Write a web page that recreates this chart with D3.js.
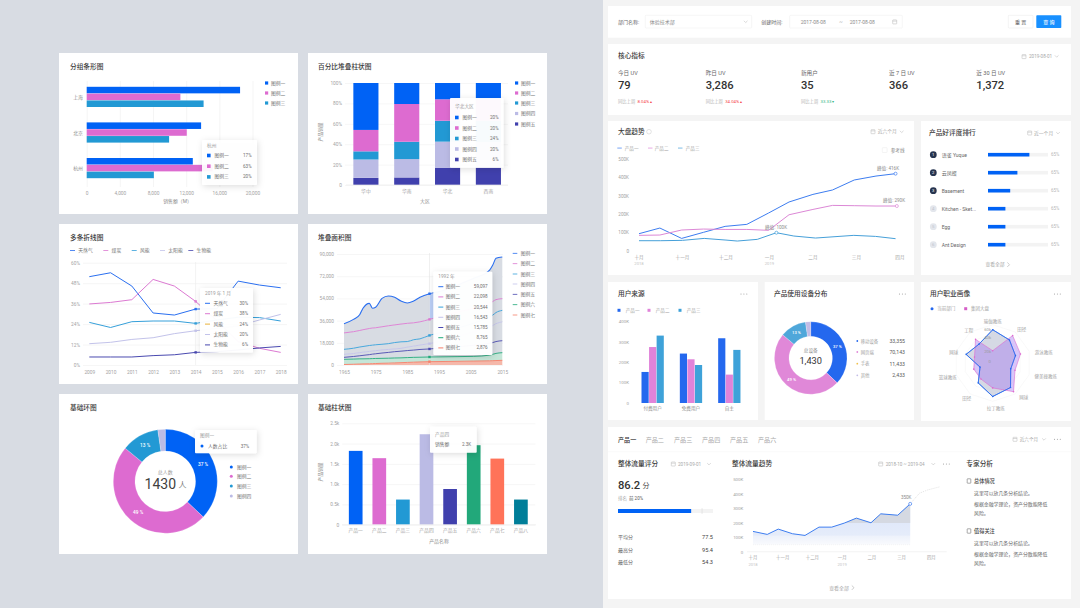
<!DOCTYPE html>
<html>
<head>
<meta charset="utf-8">
<script src="https://cdnjs.cloudflare.com/ajax/libs/d3/7.8.5/d3.min.js"></script>
<style>
html,body{margin:0;padding:0;background:#d8dce3;}
svg{display:block;}
text{font-family:Roboto,"Noto Sans CJK SC",sans-serif;}
.tick text{fill:#a3a3a3;}
</style>
</head>
<body>
<div id="chart"></div>
<script>
// ---- palette
var BLUE='#0062f5',PINK='#dd6bd0',TEAL='#2299d4',LAV='#bbbbe5',INDIGO='#4040ad',GREEN='#22a87a',CORAL='#ff7359',DTEAL='#007e99';
var SOFT_BLUE='#2468ee',SOFT_PINK='#e083d9',SOFT_TEAL='#3ea2d9';
var legendNames=['图例一','图例二','图例三','图例四','图例五','图例六','图例七'];

// ---- grouped horizontal bars
var hbarCities=['上海','北京','杭州'];
var hbarA=[18500,13800,12800];
var hbarB=[11300,12070,15200];
var hbarC=[14100,9940,8100];
var hbarTicks=[0,4000,8000,12000,16000,20000];

// ---- 100% stacked columns
var pctRegions=['华中','华南','华北','西南'];
var pctS1=[46,20.6,16,16];
var pctS2=[21,37,21,21];
var pctS3=[8,17,20.5,21];
var pctS4=[18,18,25.5,25];
var pctS5=[7,7.4,17,17];
var pctTicks=[0,20,40,60,80,100];

// ---- multi lines
var lineYears=[2009,2010,2011,2012,2013,2014,2015,2016,2017,2018];
var lineGas=[51.8,54.1,46.3,30.5,29.3,32.8,33,49.2,46.9,45.3];
var lineCoal=[35.8,36.7,38.3,50.2,46.3,37.3,26,13.7,9.8,7.4];
var lineWind=[25,22,25.4,25.8,25.8,24.4,26.4,28,27.8,25.8];
var lineSolar=[12.5,13.3,15,16,18.4,20.1,21.5,22.9,26.4,29.7];
var lineBio=[4.7,4.7,4.7,5.5,6,7.4,7.8,8.8,10,10.9];
var lineNames=['天然气','煤炭','风能','太阳能','生物能'];
var lineTicks=[0,12,24,36,48,60];

// ---- stacked area: level of each boundary, in thousands
var areaYears=[1965,1968,1970,1971,1973,1974,1975,1977,1979,1981,1983,1985,1987,1989,1992,1995,2001,2006,2011,2012,2013,2015];
var areaL1=[33.5,37,41,46,50,46,46.8,54,56,54.9,51.9,50.3,51.9,54.9,57.8,59.5,64.9,70.3,77,81,86.5,87.6];
var areaL2=[26,27,28,28.6,29.6,30,30.2,31,31.8,32.5,33.2,33.8,34.2,35,37,39,43,46,50,51.5,53,53.8];
var areaL3=[12.7,13.6,14.6,15,15.8,16.1,16.4,16.8,17.3,18.2,18.8,19,20.5,21.2,24,26,30,34,39,40.5,42.5,44.3];
var areaL4=[8.6,9.3,10,10.4,11,11.3,11.6,12.2,12.6,13,13.5,14.5,15.3,16.2,17.3,19,23,27,31,32,33.5,35];
var areaL5=[6.2,6.9,7.5,7.8,8.4,8.8,9.1,9.7,10.2,10.8,11.2,11.7,12.1,12.6,13,13.6,14.8,16,17.6,18.2,19,19.7];
var areaL6=[4.6,4.8,5,5,5.1,5.2,5.3,5.4,5.5,5.7,5.8,6,6.2,6.3,6.5,6.6,6.8,7,8,8.7,9.4,10];
var areaL7=[0.4,0.6,0.8,0.9,1,1.1,1.2,1.4,1.5,1.7,1.9,2.1,2.3,2.5,2.7,2.8,3,3.2,3.4,3.5,3.6,3.8];
var areaTicks=[0,18,36,54,72,90];
var areaTipValues=['59,097','22,098','20,544','16,543','15,785','8,765','2,876'];

// ---- donuts
var ringValues=[37,49,11.7,2.3];
var ringLabels=['37 %','49 %','13 %',''];

// ---- column chart
var colNames=['产品一','产品二','产品三','产品四','产品五','产品六','产品七','产品八'];
var colValues=[1.82,1.64,0.62,2.23,0.88,1.96,1.63,0.62];
var colTicks=[0,0.5,1,1.5,2,2.5];

// ---- dashboard: KPI row
var kpiLabels=['今日 UV','昨日 UV','新用户','近 7 日 UV','近 30 日 UV'];
var kpiValues=['79','3,286','35','366','1,372'];
var kpiDelta=['8.04%','34.04%','33.33','',''];

// ---- dashboard: trend
var monthNames=['十月','十一月','十二月','一月','二月','三月','四月'];
var trendPos=[0,.48,.98,1.48,1.98,2.48,2.98,3.45,4,4.45,4.95,5.45,5.9];
var trendP1=[92.7,123.6,67,100,132.7,143.6,205.5,265.5,307,331,385.5,407,420];
var trendP2=[83.6,85.5,112.7,118,116,116,111,196,225,247,245.5,243.6,243.6];
var trendP3Pos=[0,.5,1,1.5,2,2.26,2.72,3.16,3.56,4.06,4.94,5.44,5.9];
var trendP3=[54.5,54.5,56.4,67,58,52.7,61.8,98,80,69,83.6,78,65.5];
var kTicks=[0,100,200,300,400,500];

// ---- dashboard: ranking
var rankNames=['语雀 Yuque','云凤蝶','Basement','Kitchen - Sket...','Egg','Ant Design'];
var rankShare=[69,49,37,29,29,29];

// ---- dashboard: source columns
var srcGroups=['付费用户','免费用户','自主'];
var srcP1=[152,242,317];
var srcP2=[274,214,139];
var srcP3=[330,186,260];

// ---- dashboard: device legend
var deviceNames=['移动设备','网页端','手表','其他'];
var deviceValues=['33,355','70,143','11,433','2,433'];

// ---- dashboard: radar
var radarAxes=['瑜伽教练','田径','游泳教练','健美操教练','网球','拉丁教练','田径','篮球教练','网球','工程'];
var radarDept=[69.5,59.5,50,39.6,63.3,70,51.5,27.8,58.4,48.7];
var radarGroup=[25.7,70.8,61,49,74,52,41.6,41.6,40,61];
var radarTicks=[20,40,60];

// ---- dashboard: flow trend
var flowPos=[0,.48,.85,1.33,1.75,2.22,2.65,3.07,3.48,3.97,4.3,4.87,5.29];
var flowValues=[141.6,121,157.5,125.6,114,171,171,198.6,233,201,262.6,253,331];
var flowFcPos=[5.29,5.6,5.88,6.27];
var flowFcValues=[331,404,427,447.5];
var flowStatNames=['平均分','最高分','最低分'];
var flowStatValues=['77.5','95.4','54.3'];
var tabNames=['产品一','产品二','产品三','产品四','产品五','产品六'];

var svg=d3.select('#chart').append('svg').attr('width',1080).attr('height',608).attr('viewBox','0 0 1080 608');
var defs=svg.append('defs');
var shadow=defs.append('filter').attr('id','tipShadow').attr('x','-30%').attr('y','-30%').attr('width','160%').attr('height','160%');
shadow.append('feDropShadow').attr('dx',1).attr('dy',1.5).attr('stdDeviation',3).attr('flood-color','#000').attr('flood-opacity',.14);

svg.append('rect').attr('width',1080).attr('height',608).attr('fill','#d8dce3');
svg.append('rect').attr('x',603).attr('width',477).attr('height',608).attr('fill','#f4f4f4');

function card(x0,y0,x1,y1){
  svg.append('rect').attr('x',x0).attr('y',y0).attr('width',x1-x0).attr('height',y1-y0).attr('fill','#fff');
}
function txt(x,y,s,o){
  o=o||{};
  return svg.append('text').attr('x',x).attr('y',y).text(s)
    .attr('dominant-baseline','central')
    .attr('font-size',o.size||4.9)
    .attr('fill',o.color||'#8c8c8c')
    .attr('font-weight',o.weight||400)
    .attr('text-anchor',o.anchor||'start');
}
function title(x,y,s){ return txt(x,y,s,{size:6.7,color:'#3a3a3a',weight:500}); }
function calendar(x,y){
  svg.append('rect').attr('x',x-2).attr('y',y-2).attr('width',4).attr('height',4).attr('rx',.4)
    .attr('fill','none').attr('stroke','#b5b5b5').attr('stroke-width',.5);
  svg.append('line').attr('x1',x-2).attr('x2',x+2).attr('y1',y-.8).attr('y2',y-.8).attr('stroke','#b5b5b5').attr('stroke-width',.5);
}
function chevron(x,y,c){
  svg.append('path').attr('d','M'+(x-1.8)+','+(y-.9)+'L'+x+','+(y+.9)+'L'+(x+1.8)+','+(y-.9))
    .attr('fill','none').attr('stroke',c||'#b5b5b5').attr('stroke-width',.5);
}
function arrowRight(x,y){
  svg.append('path').attr('d','M'+(x-1)+','+(y-2.2)+'L'+(x+1.2)+','+y+'L'+(x-1)+','+(y+2.2))
    .attr('fill','none').attr('stroke','#a8a8a8').attr('stroke-width',.6);
}
function dots(x,y){
  [0,2.9,5.8].forEach(function(d){
    svg.append('circle').attr('cx',x+d).attr('cy',y).attr('r',.55).attr('fill','#9a9a9a');
  });
}
// gridLen is how far the grid runs to the right of x
function leftAxis(x,scale,vals,fmt,gridLen,size){
  var g=svg.append('g').attr('transform','translate('+x+',0)')
    .call(d3.axisLeft(scale).tickValues(vals).tickFormat(fmt).tickSize(gridLen?-gridLen:0).tickPadding(gridLen?3:0));
  g.select('.domain').remove();
  g.selectAll('line').attr('stroke','#f0f0f0').attr('stroke-width',.6);
  g.selectAll('text').attr('font-size',size||4.8);
  return g;
}
function bottomAxis(y,scale,vals,fmt,size){
  var g=svg.append('g').attr('transform','translate(0,'+y+')')
    .call(d3.axisBottom(scale).tickValues(vals).tickFormat(fmt).tickSize(0).tickPadding(3.5));
  g.select('.domain').remove();
  g.selectAll('text').attr('font-size',size||4.8);
  return g;
}
function tooltip(x,y,w,h,head,rows,o){
  o=o||{};
  svg.append('rect').attr('x',x).attr('y',y).attr('width',w).attr('height',h).attr('rx',1)
    .attr('fill','#fff').attr('fill-opacity',o.opacity||.95).attr('filter','url(#tipShadow)');
  txt(x+5,o.headY,head,{size:4.7,color:'#9a9a9a'});
  rows.forEach(function(r,i){
    var ry=o.firstY+i*o.step;
    if(o.kind==='line'){
      svg.append('rect').attr('x',x+5).attr('y',ry-.5).attr('width',5).attr('height',1).attr('fill',r.color);
    }else if(o.kind==='dot'){
      svg.append('circle').attr('cx',x+7).attr('cy',ry).attr('r',1.5).attr('fill',r.color);
    }else{
      svg.append('rect').attr('x',x+5).attr('y',ry-1.8).attr('width',3.6).attr('height',3.6).attr('fill',r.color);
    }
    txt(x+(o.nameX||12.5),ry,r.name,{size:4.8,color:'#6f6f6f'});
    txt(x+w-(o.padR||5),ry,r.val,{size:4.6,color:'#6f6f6f',anchor:'end'});
  });
}
function squareLegend(x,ys,names,colors){
  ys.forEach(function(y,i){
    svg.append('rect').attr('x',x).attr('y',y-1.6).attr('width',3.2).attr('height',3.2).attr('fill',colors[i]);
    txt(x+6,y,names[i],{size:4.8,color:'#737373'});
  });
}

// ==== left column =====================================================
card(59,53,298,214);card(308,53,547,214);
card(59,224,298,384);card(308,224,547,384);
card(59,394,298,554);card(308,394,547,554);

// grouped bars
title(70,66.5,'分组条形图');
var hx=d3.scaleLinear().domain([0,20000]).range([86.7,252.5]);
var hy=d3.scaleBand().domain(hbarCities).range([80.8,187.6]).padding(0);
var hInner=d3.scaleBand().domain([0,1,2]).range([6,6+20.2]).paddingInner(.04);
var hGrid=svg.append('g').attr('transform','translate(0,187)')
  .call(d3.axisBottom(hx).tickValues(hbarTicks).tickFormat(d3.format(',')).tickSize(-106).tickPadding(3.5));
hGrid.select('.domain').remove();
hGrid.selectAll('line').attr('stroke','#f0f0f0').attr('stroke-width',.7);
hGrid.selectAll('text').attr('font-size',4.8);
hGrid.selectAll('.tick text').attr('dy','.9em');
[hbarA,hbarB,hbarC].forEach(function(series,k){
  svg.selectAll(null).data(series).enter().append('rect')
    .attr('x',hx(0)).attr('y',function(d,i){return hy(hbarCities[i])+hInner(k);})
    .attr('width',function(d){return hx(d)-hx(0);}).attr('height',hInner.bandwidth())
    .attr('fill',[BLUE,PINK,TEAL][k]);
});
hbarCities.forEach(function(c){ txt(83,hy(c)+hInner(1)+hInner.bandwidth()/2,c,{anchor:'end',color:'#8c8c8c'}); });
txt(177.5,200.7,'销售额（M）',{anchor:'middle',color:'#8c8c8c'});
squareLegend(265,[83,93,103],legendNames,[BLUE,PINK,TEAL]);
tooltip(202,140,55,45,'杭州',[{color:BLUE,name:'图例一',val:'17%'},{color:PINK,name:'图例二',val:'63%'},{color:TEAL,name:'图例三',val:'20%'}],{headY:145,firstY:155.5,step:10.7,padR:5.5,nameX:12.5,opacity:.93});

// 100% stacked
title(318,66.5,'百分比堆叠柱状图');
var pX=d3.scaleBand().domain(pctRegions).range([346,508.3]).paddingInner(.385).paddingOuter(.18);
var pY=d3.scaleLinear().domain([0,100]).range([185,83]);
leftAxis(345,pY,pctTicks,function(d){return d===0?'0':d+'%';},163);
var pctRows=pctRegions.map(function(r,i){return {r:r,a:pctS1[i],b:pctS2[i],c:pctS3[i],d:pctS4[i],e:pctS5[i]};});
var pctStack=d3.stack().keys(['e','d','c','b','a']).order(d3.stackOrderNone)
  .value(function(row,k){return row[k];})(pctRows);
var pctColors={a:BLUE,b:PINK,c:TEAL,d:LAV,e:INDIGO};
pctStack.forEach(function(layer){
  svg.selectAll(null).data(layer).enter().append('rect')
    .attr('x',function(d){return pX(d.data.r);}).attr('width',pX.bandwidth())
    .attr('y',function(d){return pY(Math.min(d[1],100));})
    .attr('height',function(d){return pY(d[0])-pY(Math.min(d[1],100));})
    .attr('fill',pctColors[layer.key]);
});
svg.append('line').attr('x1',346).attr('x2',508).attr('y1',185).attr('y2',185).attr('stroke','#ececec').attr('stroke-width',.7);
pctRegions.forEach(function(r){ txt(pX(r)+pX.bandwidth()/2,191,r,{anchor:'middle',size:4.8,color:'#a3a3a3'}); });
txt(425,201,'大区',{anchor:'middle',color:'#8c8c8c'});
svg.append('text').attr('transform','translate(320.5,132) rotate(-90)').attr('text-anchor','middle').attr('dominant-baseline','central').attr('font-size',4.8).attr('fill','#8c8c8c').text('产品销量');
squareLegend(515,[83,93,103,113.5,124],legendNames,[BLUE,PINK,TEAL,LAV,INDIGO]);
tooltip(450,98,53.5,69.7,'华北大区',[{color:BLUE,name:'图例一',val:'20%'},{color:PINK,name:'图例二',val:'20%'},{color:TEAL,name:'图例三',val:'24%'},{color:LAV,name:'图例四',val:'20%'},{color:INDIGO,name:'图例五',val:'6%'}],{headY:106.7,firstY:117.5,step:10.5,padR:5,nameX:12.5,opacity:.96});

// multi line
title(70,238,'多条折线图');
var lX=d3.scalePoint().domain(lineYears).range([89.3,280.7]);
var lY=d3.scaleLinear().domain([0,60]).range([365,262.7]);
leftAxis(83,lY,lineTicks,function(d){return d+'%';},204);
bottomAxis(366,lX,lineYears,d3.format('d')).selectAll('text').attr('dy','.9em');
var lineColors=['#2a6ff0','#dc7ad2','#36a0da','#c3c3ea','#4a4ab0'];
var lineSet=[lineGas,lineCoal,lineWind,lineSolar,lineBio];
var lineGen=d3.line().x(function(d,i){return lX(lineYears[i]);}).y(function(d){return lY(d);});
svg.append('line').attr('x1',lX(2014)).attr('x2',lX(2014)).attr('y1',262).attr('y2',365).attr('stroke','#ececec').attr('stroke-width',.7);
lineSet.forEach(function(s,i){
  svg.append('path').datum(s).attr('d',lineGen).attr('fill','none').attr('stroke',lineColors[i]).attr('stroke-width',1);
  svg.append('rect').attr('x',lX(2014)-1.2).attr('y',lY(s[5])-1.2).attr('width',2.4).attr('height',2.4).attr('fill',lineColors[i]);
});
[70,103.3,131.7,160,188.3].forEach(function(x,i){
  svg.append('rect').attr('x',x).attr('y',250).attr('width',5).attr('height',.8).attr('fill',lineColors[i]);
  txt(x+8.3,250.3,lineNames[i],{size:4.8,color:'#737373'});
});
tooltip(200,288,53,64.5,'2019 年 1 月',[{color:'#2a6ff0',name:'天然气',val:'30%'},{color:'#dc7ad2',name:'煤炭',val:'38%'},{color:'#e8b23a',name:'风能',val:'24%'},{color:'#c3c3ea',name:'太阳能',val:'20%'},{color:'#4a4ab0',name:'生物能',val:'6%'}],{kind:'line',headY:293.3,firstY:303.3,step:10.4,padR:5,nameX:13.5,opacity:.96});

// stacked area
title(318,238,'堆叠面积图');
var aX=d3.scaleLinear().domain([1965,2015]).range([344,502.3]);
var aY=d3.scaleLinear().domain([0,90]).range([365,254]);
leftAxis(337,aY,areaTicks,function(d){return d===0?'0':d3.format(',')(d*1000);},166);
bottomAxis(366,aX,[1965,1975,1985,1995,2005,2015],d3.format('d')).selectAll('text').attr('dy','.9em');
var areaSet=[areaL1,areaL2,areaL3,areaL4,areaL5,areaL6,areaL7];
var areaColors=['#2a6ff0','#dc7ad2','#36a0da','#c3c3ea','#4a4ab0','#22a87a','#f5806a'];
var areaFill=['#d8dce3','#d8dce3','#d8dce3','#d8dce3','#d8dce3','#c5e6d8','#f5b8aa'];
areaSet.forEach(function(s,k){
  var below=areaSet[k+1];
  var gen=d3.area().curve(d3.curveMonotoneX).x(function(d,i){return aX(areaYears[i]);})
    .y0(function(d,i){return aY(below?below[i]:0);}).y1(function(d){return aY(d);});
  svg.append('path').datum(s).attr('d',gen).attr('fill',areaFill[k]);
});
// highlighted stripe behind the tooltip edge
var stripeIdx=d3.range(areaYears.length).filter(function(i){return areaYears[i]>=1992&&areaYears[i]<=1995;});
var stripe=d3.area().curve(d3.curveMonotoneX).x(function(i){return aX(areaYears[i]);})
  .y0(function(i){return aY(areaL2[i]);}).y1(function(i){return aY(areaL1[i]);});
svg.append('path').datum(stripeIdx).attr('d',stripe).attr('fill','#b9cdf5');
areaSet.forEach(function(s,k){
  var ln=d3.line().curve(d3.curveMonotoneX).x(function(d,i){return aX(areaYears[i]);}).y(function(d){return aY(d);});
  svg.append('path').datum(s).attr('d',ln).attr('fill','none').attr('stroke',areaColors[k]).attr('stroke-width',k===0?1.1:.9);
});
svg.append('line').attr('x1',aX(1992)).attr('x2',aX(1992)).attr('y1',253).attr('y2',365).attr('stroke','#e4e4e4').attr('stroke-width',.6);
areaSet.forEach(function(s,k){
  svg.append('rect').attr('x',aX(1992)-1.2).attr('y',aY(s[14])-1.2).attr('width',2.4).attr('height',2.4).attr('fill',areaColors[k]);
});
[253.3,263.7,274,284,294.3,304.7,315].forEach(function(y,i){
  svg.append('rect').attr('x',512.7).attr('y',y-.4).attr('width',4.6).attr('height',.8).attr('fill',areaColors[i]);
  txt(520.7,y,legendNames[i],{size:4.8,color:'#737373'});
});
tooltip(433.3,271.7,59,83.3,'1992 年',legendNames.map(function(n,i){return {color:areaColors[i],name:n,val:areaTipValues[i]};}),{kind:'line',headY:276.7,firstY:286.7,step:10.2,padR:4.6,nameX:12.4,opacity:.97});

// basic ring
title(70,407.5,'基础环图');
var pie=d3.pie().sort(null).value(function(d){return d;});
var ringColors=[BLUE,PINK,TEAL,LAV];
function ring(cx,cy,r0,r1,colors,labels,lblSize){
  var arc=d3.arc().innerRadius(r0).outerRadius(r1);
  var g=svg.append('g').attr('transform','translate('+cx+','+cy+')');
  g.selectAll('path').data(pie(ringValues)).enter().append('path').attr('d',arc)
    .attr('fill',function(d,i){return colors[i];}).attr('stroke','#fff').attr('stroke-width',.2);
  g.selectAll('text').data(pie(ringValues)).enter().append('text')
    .attr('transform',function(d){return 'translate('+arc.centroid(d)+')';})
    .attr('text-anchor','middle').attr('dominant-baseline','central')
    .attr('font-size',lblSize).attr('fill','#fff').attr('font-weight',500)
    .text(function(d,i){return labels[i];});
}
ring(165.3,481.3,30.3,52,ringColors,ringLabels,4.8);
txt(165.3,472.3,'总人数',{anchor:'middle',size:5,color:'#9a9a9a'});
txt(160.3,484,'1430',{anchor:'middle',size:14,color:'#3f3f3f',weight:400});
txt(182.5,485,'人',{anchor:'middle',size:8,color:'#7a7a7a'});
['图例一','图例二','图例三','图例四'].forEach(function(n,i){
  var y=[467,476.3,486,496][i];
  svg.append('circle').attr('cx',231.3).attr('cy',y).attr('r',1.5).attr('fill',ringColors[i]);
  txt(237,y,n,{size:4.8,color:'#737373'});
});
tooltip(195,430,61.7,23.3,'图例一',[{color:BLUE,name:'人数占比',val:'37%'}],{kind:'dot',headY:435.3,firstY:446,step:10,padR:7.5,nameX:13,opacity:.98});

// basic columns
title(318,407.5,'基础柱状图');
var cX=d3.scaleBand().domain(colNames).range([343.9,532.7]).paddingInner(.42).paddingOuter(.21);
var cY=d3.scaleLinear().domain([0,2.5]).range([524.7,423.3]);
leftAxis(342.3,cY,colTicks,function(d){return d===0?'0':d3.format('.1f')(d)+'k';},193);
var colColors=[BLUE,PINK,TEAL,LAV,INDIGO,GREEN,CORAL,DTEAL];
svg.selectAll(null).data(colValues).enter().append('rect')
  .attr('x',function(d,i){return cX(colNames[i]);}).attr('width',cX.bandwidth())
  .attr('y',function(d){return cY(d);}).attr('height',function(d){return cY(0)-cY(d);})
  .attr('fill',function(d,i){return colColors[i];});
svg.append('line').attr('x1',342).attr('x2',536).attr('y1',524.7).attr('y2',524.7).attr('stroke','#ececec').attr('stroke-width',.7);
colNames.forEach(function(n){ txt(cX(n)+cX.bandwidth()/2,530.5,n,{anchor:'middle',size:4.8,color:'#a3a3a3'}); });
txt(439,541,'产品名称',{anchor:'middle',color:'#8c8c8c'});
svg.append('text').attr('transform','translate(320.5,472) rotate(-90)').attr('text-anchor','middle').attr('dominant-baseline','central').attr('font-size',4.8).attr('fill','#8c8c8c').text('产品销量');
tooltip(430,426.7,46.7,26,'产品四',[{color:'#fff',name:'销售额',val:'2.3K'}],{headY:434.3,firstY:444.3,step:10,padR:5.5,nameX:5,opacity:.97});

// ==== right dashboard =================================================
card(608,6,1071,37.7);
txt(618,21.7,'部门名称:',{size:5,color:'#666'});
svg.append('rect').attr('x',645.3).attr('y',15.3).attr('width',106.4).attr('height',12.7).attr('rx',.8).attr('fill','#fff').attr('stroke','#ececec').attr('stroke-width',.5);
txt(649.7,21.7,'体验技术部',{size:5,color:'#8c8c8c'});
chevron(745.7,21.7);
txt(761.3,21.7,'创建时间:',{size:5,color:'#666'});
svg.append('rect').attr('x',789.7).attr('y',15.3).attr('width',112.6).attr('height',12.7).attr('rx',.8).attr('fill','#fff').attr('stroke','#ececec').attr('stroke-width',.5);
txt(800.7,21.7,'2017-08-08',{size:5,color:'#8c8c8c'});
txt(841,21.7,'~',{size:5,color:'#a8a8a8',anchor:'middle'});
txt(849.7,21.7,'2017-08-08',{size:5,color:'#8c8c8c'});
calendar(894.7,21.9);
svg.append('rect').attr('x',1008.3).attr('y',15.3).attr('width',24.7).attr('height',12.7).attr('rx',.8).attr('fill','#fff').attr('stroke','#e6e6e6').attr('stroke-width',.5);
txt(1020.6,21.7,'重 置',{size:5,color:'#666',anchor:'middle'});
svg.append('rect').attr('x',1036.3).attr('y',15.3).attr('width',25).attr('height',12.7).attr('rx',.8).attr('fill','#1890ff');
txt(1048.8,21.7,'查 询',{size:5,color:'#fff',anchor:'middle',weight:500});

card(608,44,1071,115);
title(618,56.3,'核心指标');
calendar(1024,56.6);
txt(1029,56.3,'2019-08-01',{size:4.6,color:'#a8a8a8'});
chevron(1056.7,56.3);
[618,705.7,801,889,976.3].forEach(function(x,i){
  txt(x,72.7,kpiLabels[i],{size:5.6,color:'#666'});
  txt(x,85.3,kpiValues[i],{size:11.2,color:'#333',weight:500});
  if(kpiDelta[i]){
    var up=i<2;
    txt(x,101,'同比上周',{size:4.3,color:'#b3b3b3'});
    txt(x+19.5,101,kpiDelta[i]+(up?' ▴':' ▾'),{size:4.3,color:up?'#f5434a':'#35b583'});
  }
});

// trend card
card(608,121,914,275);
title(618,131.7,'大盘趋势');
svg.append('circle').attr('cx',649).attr('cy',131.7).attr('r',2.3).attr('fill','none').attr('stroke','#bbb').attr('stroke-width',.4);
calendar(873,131.7);
txt(877.7,131.7,'近六个月',{size:4.8,color:'#a8a8a8'});
chevron(901.7,131.7);
var tColors=['#3d7df0','#dc88d6','#46a0d9'];
[[617.3,624.7],[648,654.7],[678,685.7]].forEach(function(p,i){
  svg.append('rect').attr('x',p[0]).attr('y',147.7).attr('width',4.5).attr('height',.7).attr('fill',tColors[i]);
  txt(p[1],148,colNames[i],{size:4.6,color:'#a3a3a3'});
});
svg.append('rect').attr('x',882.3).attr('y',147.7).attr('width',4.8).attr('height',4.8).attr('rx',.5).attr('fill','#fff').attr('stroke','#e4e4e4').attr('stroke-width',.4);
txt(890.7,150,'参考线',{size:4.6,color:'#8c8c8c'});
var tX=d3.scaleLinear().domain([0,6]).range([639,899.9]);
var tY=d3.scaleLinear().domain([0,500]).range([250.7,159]);
leftAxis(629,tY,kTicks,function(d){return d===0?'0':d+'K';}).selectAll('text').attr('font-size',4.6);
svg.selectAll(null).data(monthNames).enter().append('text')
  .attr('x',function(d,i){return tX(i);}).attr('y',257).attr('text-anchor','middle').attr('dominant-baseline','central')
  .attr('font-size',4.6).attr('fill','#a3a3a3').text(function(d){return d;});
txt(tX(0),263.3,'2018',{size:4.2,color:'#c4c4c4',anchor:'middle'});
txt(tX(3),263.3,'2019',{size:4.2,color:'#c4c4c4',anchor:'middle'});
[[trendPos,trendP1],[trendPos,trendP2],[trendP3Pos,trendP3]].forEach(function(s,k){
  var gen=d3.line().x(function(d,i){return tX(s[0][i]);}).y(function(d){return tY(d);});
  svg.append('path').datum(s[1]).attr('d',gen).attr('fill','none').attr('stroke',tColors[k]).attr('stroke-width',1);
});
function peak(x,y,c,label,lx,ly){
  svg.append('circle').attr('cx',x).attr('cy',y).attr('r',1.5).attr('fill','#fff').attr('stroke',c).attr('stroke-width',.7);
  txt(lx,ly,label,{size:4.6,color:'#8c8c8c',anchor:'middle'});
}
peak(tX(trendPos[12]),tY(trendP1[12]),tColors[0],'峰值:  416K',888,168.7);
peak(tX(trendPos[12]+.03),tY(trendP2[12]),tColors[1],'峰值:  290K',894,200.7);
peak(tX(trendP3Pos[7]),tY(trendP3[7]),tColors[2],'峰值:  100K',776,227);

// rank card
card(921,121,1071,275);
title(929,133,'产品好评度排行');
calendar(1029.7,133);
txt(1034,133,'近一个月',{size:4.8,color:'#a8a8a8'});
chevron(1058,133);
var rX=d3.scaleLinear().domain([0,100]).range([988,1048]);
var rY=d3.scalePoint().domain(rankNames).range([154.7,244.7]);
rankNames.forEach(function(n,i){
  var y=rY(n);
  svg.append('circle').attr('cx',933.3).attr('cy',y).attr('r',3.4).attr('fill',i<3?'#26344f':'#e3e6ec');
  txt(933.3,y,String(i+1),{size:4.2,color:i<3?'#fff':'#c0c4cc',anchor:'middle'});
  txt(941.7,y,n,{size:5,color:'#666'});
  svg.append('rect').attr('x',rX(0)).attr('y',y-1.8).attr('width',rX(100)-rX(0)).attr('height',3.6).attr('fill','#f3f3f3');
  svg.append('rect').attr('x',rX(0)).attr('y',y-1.8).attr('width',rX(rankShare[i])-rX(0)).attr('height',3.6).attr('fill',BLUE);
  txt(1051,y,'65%',{size:4.5,color:'#b8b8b8'});
});
txt(995,264.7,'查看全部',{size:4.8,color:'#a8a8a8',anchor:'middle'});
arrowRight(1008.3,264.7);

// source card
card(608,282,758,420);
title(618,294,'用户来源');
dots(741,294);
[[619,625.7],[649,655.7],[680,686.7]].forEach(function(p,i){
  svg.append('rect').attr('x',p[0]-1.5).attr('y',308.8).attr('width',3).attr('height',3).attr('fill',[SOFT_BLUE,SOFT_PINK,SOFT_TEAL][i]);
  txt(p[1],310.3,colNames[i],{size:4.6,color:'#a3a3a3'});
});
var sX=d3.scaleBand().domain(srcGroups).range([633.5,748.5]).padding(0);
var sIn=d3.scaleBand().domain([0,1,2]).range([8,30.3]).paddingInner(.05);
var sY=d3.scaleLinear().domain([0,400]).range([403,321.3]);
leftAxis(629,sY,kTicks.slice(0,5),function(d){return d===0?'0':d+'K';}).selectAll('text').attr('font-size',4.4);
[srcP1,srcP2,srcP3].forEach(function(series,k){
  svg.selectAll(null).data(series).enter().append('rect')
    .attr('x',function(d,i){return sX(srcGroups[i])+sIn(k);}).attr('width',sIn.bandwidth())
    .attr('y',function(d){return sY(d);}).attr('height',function(d){return sY(0)-sY(d);})
    .attr('fill',[SOFT_BLUE,SOFT_PINK,SOFT_TEAL][k]);
});
srcGroups.forEach(function(g){ txt(sX(g)+19.1,408.7,g,{size:4.6,color:'#8c8c8c',anchor:'middle'}); });

// device card
card(764.7,282,914,420);
title(774,294,'产品使用设备分布');
dots(899.5,294);
ring(810.7,358,21.7,36.3,[SOFT_BLUE,'#e088d8','#4fa7da','#c3bde6'],ringLabels,4.2);
txt(810.7,350.3,'总设备',{size:4.6,color:'#8c8c8c',anchor:'middle'});
txt(810.7,360.3,'1,430',{size:9.2,color:'#333',anchor:'middle'});
var devColors=[SOFT_BLUE,'#e088d8','#f0c04a','#c3bde6'];
[341,352,363.7,375.3].forEach(function(y,i){
  svg.append('circle').attr('cx',857.3).attr('cy',y).attr('r',.9).attr('fill',devColors[i]);
  txt(860.7,y,deviceNames[i],{size:4.4,color:'#a3a3a3'});
  txt(905,y,deviceValues[i],{size:5.2,color:'#595959',anchor:'end'});
});

// radar card
card(921,282,1071,421);
title(930,294,'用户职业画像');
dots(1054.5,294);
svg.append('circle').attr('cx',932).attr('cy',308.7).attr('r',1.5).attr('fill',SOFT_BLUE);
txt(937.3,308.7,'当前部门',{size:4.5,color:'#a3a3a3'});
svg.append('rect').attr('x',964.2).attr('y',307.2).attr('width',3).attr('height',3).attr('fill','#d55fc8');
txt(971,308.7,'集团大盘',{size:4.5,color:'#a3a3a3'});
var rCx=992.7,rCy=363;
var rR=d3.scaleLinear().domain([0,80]).range([0,38.3]);
var rAngle=d3.scalePoint().domain(d3.range(10)).range([0,Math.PI*2*.9]);
var radial=d3.lineRadial().curve(d3.curveLinearClosed).angle(function(d,i){return rAngle(i);}).radius(function(d){return rR(d);});
var rG=svg.append('g').attr('transform','translate('+rCx+','+rCy+')');
[20,40,60,80].forEach(function(v){
  rG.append('path').datum(d3.range(10).map(function(){return v;})).attr('d',radial).attr('fill','none').attr('stroke','#f0f0f0').attr('stroke-width',.4);
});
rG.append('path').datum(radarDept).attr('d',radial).attr('fill','#d5d9e4').attr('stroke',SOFT_BLUE).attr('stroke-width',.7);
rG.append('path').datum(radarGroup).attr('d',radial).attr('fill','#a070f0').attr('fill-opacity',.4).attr('stroke','#dd6bd0').attr('stroke-width',.6);
rG.append('path').datum(radarDept).attr('d',radial).attr('fill','none').attr('stroke',SOFT_BLUE).attr('stroke-width',.7);
[[radarGroup,'#dd6bd0'],[radarDept,SOFT_BLUE]].forEach(function(s){
  rG.selectAll(null).data(s[0]).enter().append('circle')
    .attr('cx',function(d,i){return rR(d)*Math.sin(rAngle(i));})
    .attr('cy',function(d,i){return -rR(d)*Math.cos(rAngle(i));})
    .attr('r',.8).attr('fill',s[1]);
});
radarTicks.forEach(function(v,i){ txt(rCx-5,rCy-[13,27,35][i]+1,v+'k',{size:4.2,color:'#9a9a9a',anchor:'middle'}); });
txt(rCx-3,rCy-1.5,'0',{size:4.2,color:'#9a9a9a',anchor:'middle'});
[[0,-42],[29,-34],[51,-11],[53,13],[31,34],[3,45],[-26,35],[-45,14],[-39,-11],[-24,-33]].forEach(function(o,i){
  txt(rCx+o[0],rCy+o[1],radarAxes[i],{size:4.5,color:'#a3a3a3',anchor:'middle'});
});

// bottom card
card(608,427,1071,599);
svg.append('line').attr('x1',608).attr('x2',1071).attr('y1',451.7).attr('y2',451.7).attr('stroke','#f6f6f6').attr('stroke-width',.6);
[618,645.7,674,702,730,758].forEach(function(x,i){
  txt(x,439.3,tabNames[i],{size:6.1,color:i===0?'#333':'#aaa',weight:i===0?500:400});
});
calendar(1015,439.3);
txt(1019.7,439.3,'近六个月',{size:4.6,color:'#a8a8a8'});
chevron(1044,439.3);
dots(1054.5,439.3);

title(618,464,'整体流量评分');
calendar(673.3,464);
txt(678,464,'2019-09-01',{size:4.6,color:'#a8a8a8'});
chevron(709,464);
txt(618,485,'86.2',{size:11.2,color:'#333',weight:500});
txt(642.5,485.5,'分',{size:7,color:'#444'});
txt(618,498.3,'排名',{size:4.5,color:'#a8a8a8'});
txt(629,498.3,'前 20%',{size:4.5,color:'#595959'});
var fX=d3.scaleLinear().domain([0,100]).range([618,713]);
svg.append('rect').attr('x',fX(0)).attr('y',509).attr('width',fX(100)-fX(0)).attr('height',4).attr('fill','#f3f3f3');
svg.append('rect').attr('x',fX(0)).attr('y',509).attr('width',fX(77)-fX(0)).attr('height',4).attr('fill',BLUE);
svg.append('line').attr('x1',fX(88.5)).attr('x2',fX(88.5)).attr('y1',508).attr('y2',514).attr('stroke','#cfcfcf').attr('stroke-width',.4);
[537.3,549.7,562.3].forEach(function(y,i){
  txt(618,y,flowStatNames[i],{size:5,color:'#666'});
  txt(713,y,flowStatValues[i],{size:5.6,color:'#444',anchor:'end'});
});

title(732,464,'整体流量趋势');
calendar(880.7,464);
txt(885.7,464,'2018-10 ~ 2019-04',{size:4.6,color:'#a8a8a8'});
chevron(933.3,464);
dots(943.5,464);
var fgX=d3.scaleLinear().domain([0,6]).range([753,931.3]);
var fgY=d3.scaleLinear().domain([0,500]).range([552,479.3]);
leftAxis(743.3,fgY,kTicks,function(d){return d===0?'0':d+'K';}).selectAll('text').attr('font-size',4.4);
svg.append('line').attr('x1',747).attr('x2',946.7).attr('y1',551.7).attr('y2',551.7).attr('stroke','#ececec').attr('stroke-width',.6);
var grad=defs.append('linearGradient').attr('id','flowFade').attr('gradientUnits','userSpaceOnUse')
  .attr('x1',0).attr('x2',0).attr('y1',fgY(200)).attr('y2',fgY(50));
grad.append('stop').attr('offset',0).attr('stop-color','#e1e9fa');
grad.append('stop').attr('offset',.55).attr('stop-color','#e5ecfa');
grad.append('stop').attr('offset',.62).attr('stop-color','#eef2fb');
grad.append('stop').attr('offset',1).attr('stop-color','#f9fafd');
var flowArea=d3.area().x(function(d,i){return fgX(flowPos[i]);}).y0(fgY(50)).y1(function(d){return fgY(d);});
svg.append('path').datum(flowValues).attr('d',flowArea).attr('fill','url(#flowFade)');
var flowHigh=d3.area().x(function(d,i){return fgX(flowPos[i]);}).y0(fgY(200)).y1(function(d){return fgY(Math.max(d,200));});
svg.append('path').datum(flowValues).attr('d',flowHigh).attr('fill','#d5d9e2');
svg.append('line').attr('x1',fgX(0)).attr('x2',fgX(flowPos[12])).attr('y1',fgY(50)).attr('y2',fgY(50)).attr('stroke','#e6e6e6').attr('stroke-width',.4).attr('stroke-dasharray','1 1');
svg.append('path').datum(flowValues).attr('d',d3.line().x(function(d,i){return fgX(flowPos[i]);}).y(function(d){return fgY(d);}))
  .attr('fill','none').attr('stroke','#3d7df0').attr('stroke-width',1);
svg.append('path').datum(flowFcValues).attr('d',d3.line().x(function(d,i){return fgX(flowFcPos[i]);}).y(function(d){return fgY(d);}))
  .attr('fill','none').attr('stroke','#c4c4c4').attr('stroke-width',.5).attr('stroke-dasharray','1 1');
svg.append('circle').attr('cx',fgX(flowPos[12])).attr('cy',fgY(flowValues[12])).attr('r',1.5).attr('fill','#fff').attr('stroke','#3d7df0').attr('stroke-width',.7);
txt(fgX(flowPos[12])-4,497.7,'350K',{size:4.6,color:'#8c8c8c',anchor:'middle'});
svg.selectAll(null).data(monthNames).enter().append('text')
  .attr('x',function(d,i){return fgX(i);}).attr('y',557.7).attr('text-anchor','middle').attr('dominant-baseline','central')
  .attr('font-size',4.4).attr('fill','#a3a3a3').text(function(d){return d;});
txt(fgX(0),564.3,'2018',{size:4.1,color:'#c4c4c4',anchor:'middle'});
txt(fgX(3),564.3,'2019',{size:4.1,color:'#c4c4c4',anchor:'middle'});

title(966.3,464,'专家分析');
[[481,'总体情况'],[531,'值得关注']].forEach(function(s){
  var y=s[0];
  svg.append('rect').attr('x',967.2).attr('y',y-2.2).attr('width',3.6).attr('height',4.4).attr('rx',.4).attr('fill','none').attr('stroke','#555').attr('stroke-width',.5);
  txt(974,y,s[1],{size:5.2,color:'#444',weight:500});
  txt(974,y+11.7,'这里可以放几条分析结论。',{size:4.9,color:'#666'});
  txt(974,y+23.3,'根据金融学理论，资产分散能降低',{size:4.9,color:'#666'});
  txt(974,y+32,'风险。',{size:4.9,color:'#666'});
});
txt(839,587.7,'查看全部',{size:4.9,color:'#a8a8a8',anchor:'middle'});
arrowRight(852.8,587.7);
</script>
</body>
</html>
